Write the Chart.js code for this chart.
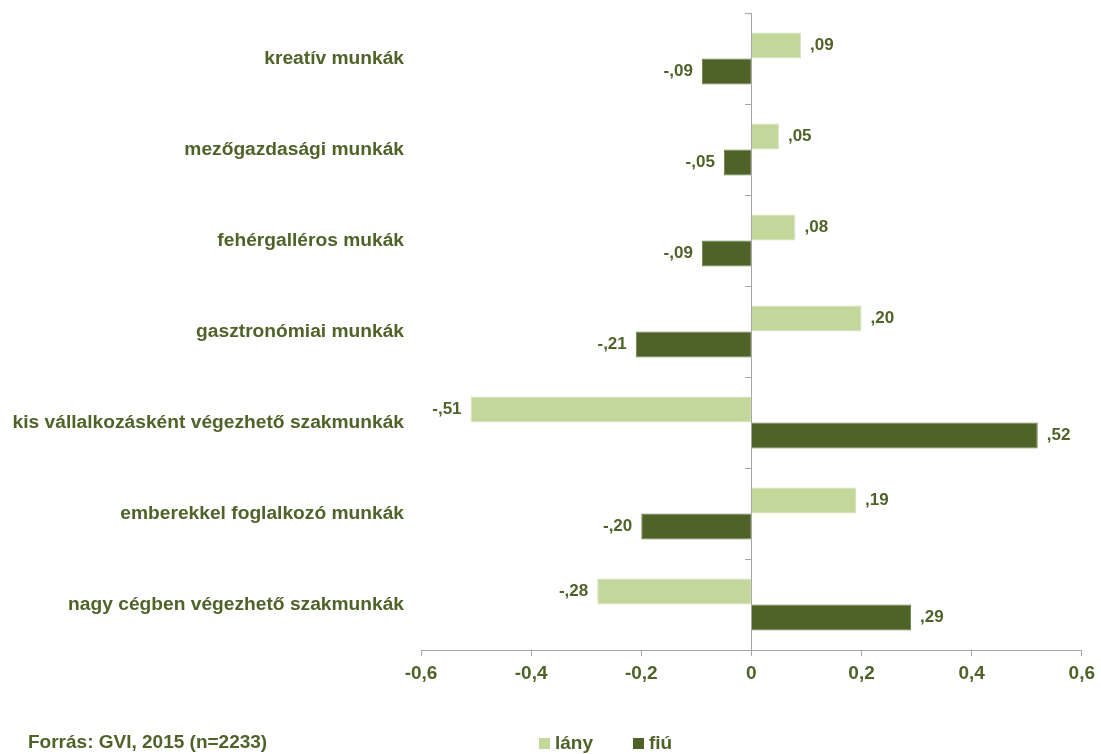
<!DOCTYPE html>
<html>
<head>
<meta charset="utf-8">
<script src="https://cdn.jsdelivr.net/npm/chart.js@4"></script>
<style>
  body { margin: 0; background: #fff; }
  #wrap { width: 1101px; height: 754px; }
</style>
</head>
<body>
<div id="wrap"><canvas id="barChart" width="1101" height="754"></canvas></div>
<script>
var categories = [
    'kreatív munkák',
    'mezőgazdasági munkák',
    'fehérgalléros mukák',
    'gasztronómiai munkák',
    'kis vállalkozásként végezhető szakmunkák',
    'emberekkel foglalkozó munkák',
    'nagy cégben végezhető szakmunkák'
];
var lanyValues = [0.09, 0.05, 0.08, 0.20, -0.51, 0.19, -0.28];
var fiuValues = [-0.09, -0.05, -0.09, -0.21, 0.52, -0.20, 0.29];
var seriesNames = ['lány', 'fiú'];
var xTicks = [-0.6, -0.4, -0.2, 0, 0.2, 0.4, 0.6];
var sourceText = 'Forrás: GVI, 2015 (n=2233)';

var textColor = '#4F6228';
var axisColor = '#A6A6A6';

// ",09" / "-,09" style labels
function shortNum(v) {
    var s = Math.abs(v).toFixed(2).replace('0.', ',');
    return (v < 0 ? '-' : '') + s;
}

// value labels at the end of each bar
var valueLabels = {
    id: 'valueLabels',
    afterDatasetsDraw: function (chart) {
        var ctx = chart.ctx;
        ctx.save();
        ctx.font = 'bold 17px "Liberation Sans", Arial, sans-serif';
        ctx.fillStyle = textColor;
        ctx.textBaseline = 'middle';
        chart.data.datasets.forEach(function (ds, i) {
            chart.getDatasetMeta(i).data.forEach(function (bar, j) {
                var v = ds.data[j];
                if (v < 0) {
                    ctx.textAlign = 'right';
                    ctx.fillText(shortNum(v), bar.x - 9, bar.y);
                } else {
                    ctx.textAlign = 'left';
                    ctx.fillText(shortNum(v), bar.x + 9, bar.y);
                }
            });
        });
        ctx.restore();
    }
};

// source note and legend below the axis
var footer = {
    id: 'footer',
    afterDraw: function (chart) {
        var ctx = chart.ctx;
        ctx.save();
        ctx.textBaseline = 'middle';
        ctx.fillStyle = textColor;
        ctx.font = 'bold 19px "Liberation Sans", Arial, sans-serif';
        ctx.textAlign = 'left';
        ctx.fillText(sourceText, 28, 743);

        var x = 539;
        ctx.font = 'bold 19px "Liberation Sans Narrow", "Arial Narrow", sans-serif';
        chart.data.datasets.forEach(function (ds) {
            ctx.fillStyle = ds.backgroundColor;
            ctx.fillRect(x, 738, 11, 11);
            ctx.fillStyle = textColor;
            ctx.fillText(ds.label, x + 16, 744);
            x += 94;
        });
        ctx.restore();
    }
};

var ctx = document.getElementById('barChart').getContext('2d');
var barChart = new Chart(ctx, {
    type: 'bar',
    data: {
        labels: categories,
        datasets: [{
            label: seriesNames[0],
            data: lanyValues,
            backgroundColor: '#C4D79B',
            borderColor: '#D6E3BC',
            borderWidth: 1,
            yAxisID: 'y'
        }, {
            label: seriesNames[1],
            data: fiuValues,
            backgroundColor: '#4F6228',
            borderColor: '#6B7F45',
            borderWidth: 1,
            yAxisID: 'y'
        }]
    },
    options: {
        indexAxis: 'y',
        responsive: false,
        animation: false,
        categoryPercentage: 0.57,
        barPercentage: 1,
        layout: {
            padding: { top: 13, right: 19, bottom: 44, left: 0 }
        },
        scales: {
            x: {
                min: -0.6,
                max: 0.6,
                afterBuildTicks: function (scale) {
                    scale.ticks = xTicks.map(function (v) { return { value: v }; });
                },
                afterFit: function (scale) { scale.height = 60; },
                grid: {
                    drawOnChartArea: false,
                    tickLength: 6,
                    tickColor: axisColor
                },
                border: { color: axisColor },
                ticks: {
                    padding: 6,
                    color: textColor,
                    font: { family: '"Liberation Sans Narrow", "Arial Narrow", sans-serif', size: 19, weight: 'bold' },
                    callback: function (v) { return String(Math.round(v * 10) / 10).replace('.', ','); }
                }
            },
            // axis drawn at zero with tick marks between categories
            y: {
                type: 'category',
                position: { x: 0 },
                grid: {
                    offset: true,
                    drawOnChartArea: false,
                    tickLength: 6,
                    tickColor: axisColor
                },
                border: { color: axisColor },
                ticks: { display: false }
            },
            // category names on the left
            yLabels: {
                type: 'category',
                position: 'left',
                offset: true,
                labels: categories,
                afterFit: function (scale) {
                    scale.width = 421;
                    scale.paddingTop = 0;
                    scale.paddingBottom = 0;
                },
                grid: { display: false, drawTicks: false },
                border: { display: false },
                ticks: {
                    padding: 17,
                    color: textColor,
                    font: { family: '"Liberation Sans", Arial, sans-serif', size: 19.2, weight: 'bold' }
                }
            }
        },
        plugins: {
            legend: { display: false },
            tooltip: { enabled: false }
        }
    },
    plugins: [valueLabels, footer]
});
</script>
</body>
</html>
